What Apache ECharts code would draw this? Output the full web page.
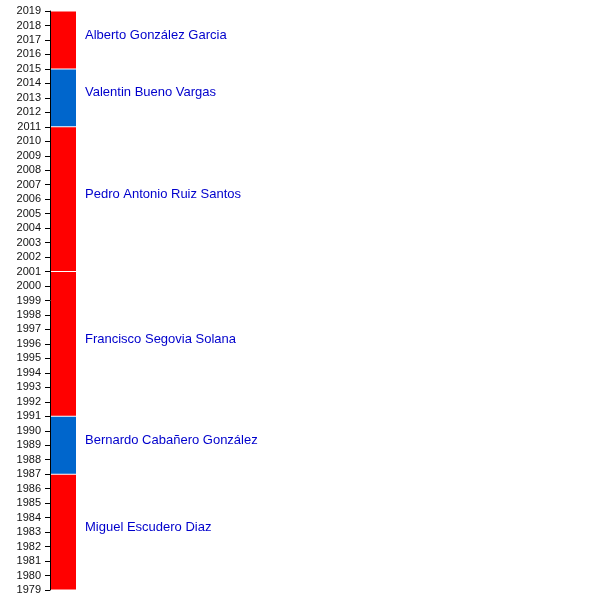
<!DOCTYPE html>
<html>
<head>
<meta charset="utf-8">
<script src="https://cdn.jsdelivr.net/npm/echarts@6/dist/echarts.min.js"></script>
<style>
  html, body { margin: 0; padding: 0; background: #fff; }
  #chart { width: 600px; height: 600px; }
</style>
</head>
<body>
<div id="chart"></div>
<script>
// mandatos: nombre, inicio, fin, color
const names = [
  'Miguel Escudero Diaz',
  'Bernardo Cabañero González',
  'Francisco Segovia Solana',
  'Pedro Antonio Ruiz Santos',
  'Valentin Bueno Vargas',
  'Alberto González Garcia'
];
const startYears = [1979, 1987, 1991, 2001, 2011, 2015];
const endYears = [1987, 1991, 2001, 2011, 2015, 2019];
const colors = ['#ff0000', '#0066cc', '#ff0000', '#ff0000', '#0066cc', '#ff0000'];

const chart = echarts.init(document.getElementById('chart'), null, { renderer: 'canvas' });

const data = names.map((n, i) => [startYears[i], endYears[i], n, colors[i]]);

const option = {
  animation: false,
  grid: { left: 51, top: 11, bottom: 10, width: 25 },
  xAxis: { type: 'value', min: 0, max: 1, show: false },
  yAxis: {
    type: 'value',
    min: 1979,
    max: 2019,
    interval: 1,
    offset: 1,
    z: 10,
    splitLine: { show: false },
    axisLine: { show: true, onZero: false, lineStyle: { color: '#000', width: 1 } },
    axisTick: { show: true, length: 5, lineStyle: { color: '#000' } },
    axisLabel: {
      color: '#111',
      fontSize: 11,
      fontFamily: 'Liberation Sans, Arial, sans-serif',
      margin: 9,
      formatter: v => String(v)
    }
  },
  series: [{
    type: 'custom',
    clip: false,
    data: data,
    encode: { y: [0, 1] },
    renderItem: function (params, api) {
      const p0 = api.coord([0, api.value(0)]);
      const p1 = api.coord([1, api.value(1)]);
      const x = p0[0], w = p1[0] - p0[0];
      const y = p1[1], h = p0[1] - p1[1];
      const c = data[params.dataIndex][3];
      return {
        type: 'group',
        children: [{
          type: 'rect',
          shape: { x: x, y: y + 0.5, width: w, height: h - 1 },
          style: { fill: c }
        }, {
          type: 'text',
          style: {
            x: x + w + 9,
            y: y + h / 2 - 5,
            text: data[params.dataIndex][2],
            fill: '#0000cc',
            fontSize: 13,
            fontFamily: 'Liberation Sans, Arial, sans-serif',
            verticalAlign: 'middle',
            align: 'left'
          }
        }]
      };
    }
  }]
};

chart.setOption(option);
</script>
</body>
</html>
